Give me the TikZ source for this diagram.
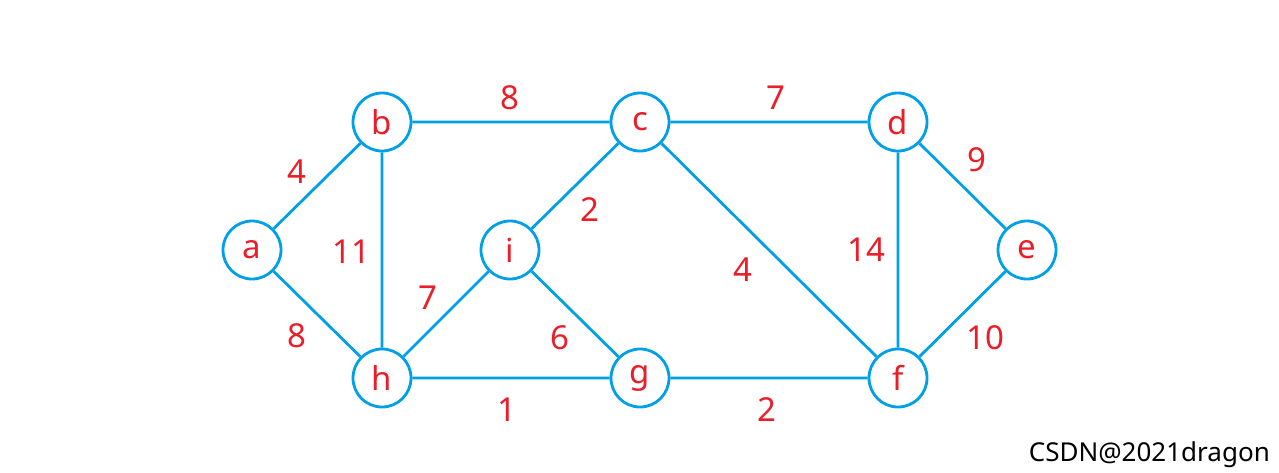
\documentclass[tikz,border=0pt]{standalone}
\usepackage{fontspec}
\setmainfont{Noto Sans}
\usepackage{xcolor}
\usetikzlibrary{calc}
\definecolor{edgeblue}{RGB}{0,160,232}
\definecolor{wred}{RGB}{234,30,40}
\tikzset{
    vert/.style={draw=edgeblue, line width=2.8pt, circle, minimum size=58pt, inner sep=0pt, fill=white, text=wred, font=\fontsize{33}{38}\selectfont},
    wt/.style={text=wred, inner sep=0pt, font=\fontsize{33}{38}\selectfont},
    edge/.style={draw=edgeblue, line width=2.8pt}
}
\begin{document}
\begin{tikzpicture}[x=1pt, y=-1pt]
                        \useasboundingbox (0, 0) rectangle (1279, 472);
                        \node[vert] (a) at (252, 250) {a};
                        \node[vert] (b) at (382, 122) {b};
                        \node[vert] (c) at (640, 122) {c};
                        \node[vert] (d) at (898, 122) {d};
                        \node[vert] (e) at (1027, 250) {e};
                        \node[vert] (i) at (510, 250) {i};
                        \node[vert] (h) at (382, 378) {h};
                        \node[vert] (g) at (640, 378) {g};
                        \node[vert] (f) at (898, 378) {f};

                        \draw[edge]
                        (a) -- (b)
                        (a) -- (h)
                        (b) -- (c)
                        (b) -- (h)
                        (c) -- (d)
                        (c) -- (i)
                        (c) -- (f)
                        (d) -- (e)
                        (d) -- (f)
                        (e) -- (f)
                        (i) -- (h)
                        (i) -- (g)
                        (h) -- (g)
                        (g) -- (f);

                        \node[wt] (w-ab) at (297, 172) {4};
                        \node[wt] (w-ah) at (297, 336) {8};
                        \node[wt] (w-bc) at (510, 98) {8};
                        \node[wt] (w-bh) at (351, 252) {11};
                        \node[wt] (w-cd) at (776, 98) {7};
                        \node[wt] (w-ci) at (590, 210) {2};
                        \node[wt] (w-cf) at (743, 270) {4};
                        \node[wt] (w-de) at (977, 160) {9};
                        \node[wt] (w-df) at (866, 250) {14};
                        \node[wt] (w-ef) at (985, 338) {10};
                        \node[wt] (w-ih) at (428, 298) {7};
                        \node[wt] (w-ig) at (560, 338) {6};
                        \node[wt] (w-hg) at (507, 410) {1};
                        \node[wt] (w-gf) at (767, 410) {2};

                        \node[anchor=east, inner sep=0pt, font=\fontsize{26}{30}\selectfont] (mark) at (1270, 455) {CSDN@2021dragon};
                    \end{tikzpicture}
\end{document}
